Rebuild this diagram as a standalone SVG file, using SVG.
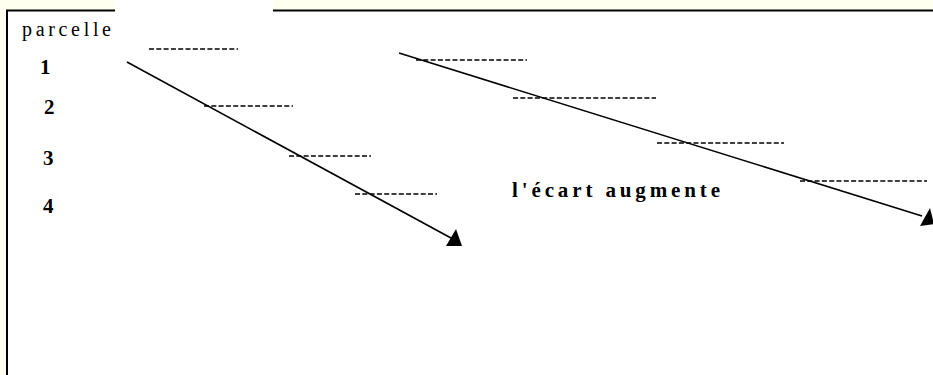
<svg xmlns="http://www.w3.org/2000/svg" width="933" height="375" viewBox="0 0 933 375">
<style>
.lbl{font-family:"Liberation Serif","Times New Roman",serif;fill:#000}
.num{font-size:21px;font-weight:bold}
.dash{stroke:#000;stroke-width:1.5;stroke-dasharray:5 2.3;fill:none}
.arr{stroke:#000;stroke-width:1.6;fill:none}
</style>
<rect x="0" y="0" width="933" height="375" fill="#fffff0"/>
<rect x="7" y="11" width="926" height="364" fill="#fff"/>
<g id="frame">
<line x1="7" y1="10" x2="7" y2="375" stroke="#000" stroke-width="2"/>
<line x1="6" y1="10.5" x2="116" y2="10.5" stroke="#000" stroke-width="2"/>
<line x1="273" y1="10.5" x2="933" y2="10.5" stroke="#000" stroke-width="2"/>
<rect x="115" y="0" width="158" height="16" fill="#fff"/>
</g>
<g id="header"><text class="lbl" x="22" y="36" font-size="20" textLength="89" lengthAdjust="spacing">parcelle</text></g>
<g id="p1"><text class="lbl num" x="40" y="74">1</text></g>
<g id="p2"><text class="lbl num" x="44" y="114">2</text></g>
<g id="p3"><text class="lbl num" x="43" y="165">3</text></g>
<g id="p4"><text class="lbl num" x="43" y="213">4</text></g>
<g id="note"><text class="lbl num" x="512" y="197" textLength="208" lengthAdjust="spacing">l'écart augmente</text></g>
<g id="levels">
<line class="dash" x1="149" y1="49" x2="238" y2="49"/>
<line class="dash" x1="204" y1="106" x2="293" y2="106"/>
<line class="dash" x1="289" y1="156" x2="371" y2="156"/>
<line class="dash" x1="355" y1="194" x2="437" y2="194"/>
<line class="dash" x1="416" y1="60" x2="527" y2="60"/>
<line class="dash" x1="513" y1="98" x2="656" y2="98"/>
<line class="dash" x1="657" y1="143" x2="784" y2="143"/>
<line class="dash" x1="800" y1="181" x2="927" y2="181"/>
</g>
<g id="connectors">
<line class="arr" x1="127" y1="62" x2="451" y2="238"/>
<polygon points="456,229 446,246 462,246" fill="#000"/>
<line class="arr" x1="399" y1="53" x2="922" y2="216"/>
<polygon points="930,208 920,226 934,224" fill="#000"/>
</g>
</svg>
